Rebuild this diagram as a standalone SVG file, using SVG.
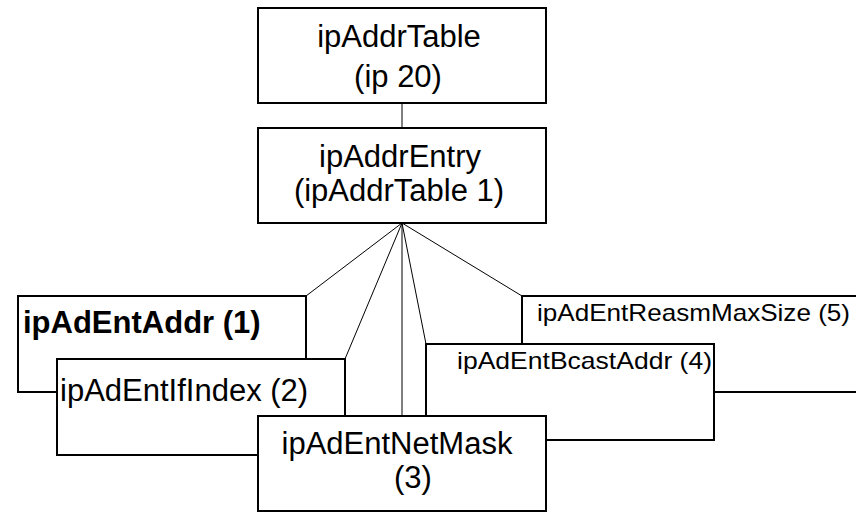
<svg xmlns="http://www.w3.org/2000/svg" width="856" height="512" viewBox="0 0 856 512">
<style>
.box{fill:#fff;stroke:#000;stroke-width:2}
.con{stroke:#000;stroke-width:1;fill:none}
text{font-family:"Liberation Sans",Arial,sans-serif;fill:#000}
.big{font-size:31px}
.mid{text-anchor:middle}
.bold{font-weight:bold}
.sm{font-size:24px}
</style>
<rect width="856" height="512" fill="#fff"/>
<g id="connectors">
<line class="con" x1="402" y1="103" x2="402" y2="128"/>
<line class="con" x1="402" y1="223" x2="306" y2="296"/>
<line class="con" x1="402" y1="223" x2="345" y2="359"/>
<line class="con" x1="402" y1="223" x2="402" y2="416"/>
<line class="con" x1="402" y1="223" x2="426" y2="344"/>
<line class="con" x1="402" y1="223" x2="522" y2="296"/>
</g>
<g id="ipAddrTable">
<rect class="box" x="258" y="8" width="288" height="95"/>
<text class="big mid" x="399" y="47">ipAddrTable</text>
<text class="big mid" x="398" y="87">(ip 20)</text>
</g>
<g id="ipAddrEntry">
<rect class="box" x="258" y="128" width="288" height="95"/>
<text class="big mid" x="400" y="167">ipAddrEntry</text>
<text class="big mid" x="399" y="201">(ipAddrTable 1)</text>
</g>
<g id="ipAdEntReasmMaxSize">
<rect class="box" x="522" y="296" width="340" height="96"/>
<text class="sm" x="537" y="321" textLength="313" lengthAdjust="spacingAndGlyphs">ipAdEntReasmMaxSize (5)</text>
</g>
<g id="ipAdEntBcastAddr">
<rect class="box" x="426" y="344" width="288" height="96"/>
<text class="sm" x="457" y="369" textLength="255" lengthAdjust="spacingAndGlyphs">ipAdEntBcastAddr (4)</text>
</g>
<g id="ipAdEntAddr">
<rect class="box" x="18" y="296" width="288" height="96"/>
<text class="big bold" x="23" y="333">ipAdEntAddr (1)</text>
</g>
<g id="ipAdEntIfIndex">
<rect class="box" x="57" y="359" width="288" height="96"/>
<text class="big" x="60" y="401">ipAdEntIfIndex (2)</text>
</g>
<g id="ipAdEntNetMask">
<rect class="box" x="258" y="416" width="288" height="95"/>
<text class="big mid" x="397" y="454">ipAdEntNetMask</text>
<text class="big mid" x="413" y="488">(3)</text>
</g>
</svg>
